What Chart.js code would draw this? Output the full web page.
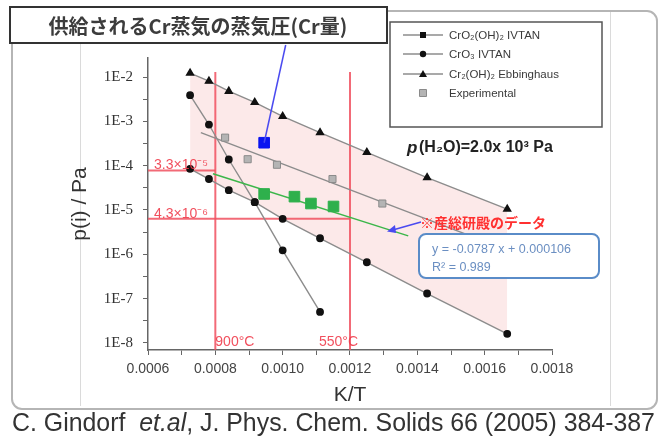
<!DOCTYPE html>
<html>
<head>
<meta charset="utf-8">
<script src="https://cdn.jsdelivr.net/npm/chart.js"></script>
<style>
html,body{margin:0;padding:0;background:#fff}
</style>
</head>
<body>
<canvas id="chart" width="664" height="443"></canvas>
<script>
// K/T values of the calculated curves
const ktVals = [0.000725, 0.000781, 0.000840, 0.000917, 0.001000, 0.001111, 0.001250, 0.001429, 0.001667]
const ebbinghausP = [1.23e-2, 8.1e-3, 4.8e-3, 2.7e-3, 1.3e-3, 5.6e-4, 2.0e-4, 5.4e-5, 1.05e-5]
const cro2oh2P = [8.5e-5, 5.0e-5, 2.8e-5, 1.5e-5, 6.3e-6, 2.3e-6, 6.6e-7, 1.3e-7, 1.6e-8]
const cro3P = [3.9e-3, 8.5e-4, 1.38e-4, 1.5e-5, 1.23e-6, 5.0e-8]

// experimental points + trend
const expKT = [0.000829, 0.000896, 0.000983, 0.001148, 0.001296]
const expP = [4.3e-4, 1.4e-4, 1.05e-4, 5.0e-5, 1.4e-5]
const expFitKT = [0.000757, 0.00167]
const expFitP = [5.6e-4, 1.23e-6]

// 産総研 data (green) + fit
const aistKT = [0.000945, 0.001035, 0.001084, 0.001151]
const aistP = [2.3e-5, 2.0e-5, 1.4e-5, 1.2e-5]
const aistFitKT = [0.000793, 0.001373]
const aistFitP = [6.6e-5, 2.6e-6]

// blue point and its pointer line
const blueKT = [0.000945]
const blueP = [3.3e-4]
const bluePointerKT = [0.000945, 0.001009]
const bluePointerP = [3.3e-4, 5.3e-2]

// red guide lines
const tempKT = [0.0008, 0.0012]
const tempLabels = ['900°C', '550°C']
const levelP = [7.8e-5, 6.3e-6]
const levelEndKT = [0.0008, 0.0012]
const levelLabels = ['3.3×10⁻⁵', '4.3×10⁻⁶']

const legendLabels = ['CrO₂(OH)₂ IVTAN', 'CrO₃ IVTAN', 'Cr₂(OH)₂ Ebbinghaus', 'Experimental']
const yDecades = [-8, -7, -6, -5, -4, -3, -2]
const xMin = 0.0006, xMax = 0.0018
const yMin = 6.9e-9, yMax = 2.7e-2
const guideTopP = 1.3e-2

const pts = (xs, ys) => xs.map((x, i) => ({x: x, y: ys[i]}))

const red = 'rgba(240,80,95,0.85)'
const lineGray = '#8c8c8c'
const pink = 'rgba(245,170,170,0.26)'

const datasets = [
  {label: 'pointer', data: pts(bluePointerKT, bluePointerP), borderColor: '#4a4af0', borderWidth: 1.5, pointRadius: 0, clip: false},
  {label: 'blue', data: pts(blueKT, blueP), showLine: false, pointStyle: 'rect', pointRadius: 7.5, backgroundColor: '#0a14f0', borderColor: '#0a14f0'},
  {label: 'aist', data: pts(aistKT, aistP), showLine: false, pointStyle: 'rect', pointRadius: 7.5, backgroundColor: '#2eb04c', borderColor: '#2eb04c'},
  {label: 'aistFit', data: pts(aistFitKT, aistFitP), borderColor: '#3cb64a', borderWidth: 1.5, pointRadius: 0},
  {label: legendLabels[3], data: pts(expKT, expP), showLine: false, pointStyle: 'rect', pointRadius: 5, backgroundColor: '#b4b4b4', borderColor: '#8a8a8a', borderWidth: 1},
  {label: 'expFit', data: pts(expFitKT, expFitP), borderColor: lineGray, borderWidth: 1.4, pointRadius: 0},
  {label: legendLabels[2], data: pts(ktVals, ebbinghausP), borderColor: lineGray, borderWidth: 1.4, pointStyle: 'triangle', pointRadius: 4, backgroundColor: '#111', pointBorderColor: '#111',
   fill: {target: '+1', above: pink, below: pink}},
  {label: legendLabels[0], data: pts(ktVals, cro2oh2P), borderColor: lineGray, borderWidth: 1.4, pointStyle: 'circle', pointRadius: 3.2, backgroundColor: '#111', pointBorderColor: '#111'},
  {label: legendLabels[1], data: pts(ktVals.slice(0, cro3P.length), cro3P), borderColor: lineGray, borderWidth: 1.4, pointStyle: 'circle', pointRadius: 3.2, backgroundColor: '#111', pointBorderColor: '#111'},
]
tempKT.forEach((x) => {
  datasets.push({label: 'temp', data: [{x: x, y: yMin}, {x: x, y: guideTopP}], borderColor: red, borderWidth: 2, pointRadius: 0})
})
levelP.forEach((p, i) => {
  datasets.push({label: 'level', data: [{x: xMin, y: p}, {x: levelEndKT[i], y: p}], borderColor: red, borderWidth: 2, pointRadius: 0})
})

function roundRect(ctx, x, y, w, h, r) {
  ctx.beginPath()
  ctx.moveTo(x + r, y)
  ctx.arcTo(x + w, y, x + w, y + h, r)
  ctx.arcTo(x + w, y + h, x, y + h, r)
  ctx.arcTo(x, y + h, x, y, r)
  ctx.arcTo(x, y, x + w, y, r)
  ctx.closePath()
}

function marker(ctx, kind, x, y) {
  ctx.fillStyle = '#111'
  ctx.beginPath()
  if (kind == 'rect') {
    ctx.rect(x - 3, y - 3, 6, 6)
  } else if (kind == 'circle') {
    ctx.arc(x, y, 3.2, 0, Math.PI * 2)
  } else if (kind == 'triangle') {
    ctx.moveTo(x, y - 4); ctx.lineTo(x + 4, y + 3); ctx.lineTo(x - 4, y + 3); ctx.closePath()
  } else {
    ctx.fillStyle = '#b4b4b4'
    ctx.strokeStyle = '#8a8a8a'
    ctx.rect(x - 3.5, y - 3.5, 7, 7)
    ctx.fill(); ctx.stroke()
    return
  }
  ctx.fill()
}

const decor = {
  id: 'decor',
  beforeDraw(chart) {
    const ctx = chart.ctx
    ctx.save()
    ctx.fillStyle = '#fff'
    ctx.fillRect(0, 0, chart.width, chart.height)
    ctx.strokeStyle = '#b5b5b5'
    ctx.lineWidth = 2
    roundRect(ctx, 12, 11, 645, 398, 10)
    ctx.stroke()
    ctx.strokeStyle = '#dadada'
    ctx.lineWidth = 1
    ctx.beginPath()
    ctx.moveTo(80.5, 44); ctx.lineTo(80.5, 406)
    ctx.moveTo(610.5, 12); ctx.lineTo(610.5, 406)
    ctx.stroke()
    ctx.restore()
  },
  afterDraw(chart) {
    const ctx = chart.ctx
    const xs = chart.scales.x, ys = chart.scales.y
    ctx.save()

    // red labels
    ctx.fillStyle = 'rgba(240,60,75,0.9)'
    ctx.font = '14px "Liberation Sans"'
    ctx.textBaseline = 'middle'
    ctx.textAlign = 'left'
    levelP.forEach((p, i) => ctx.fillText(levelLabels[i], xs.getPixelForValue(xMin) + 6, ys.getPixelForValue(p) - 5))
    tempLabels.forEach((t, i) => {
      const px = xs.getPixelForValue(tempKT[i])
      if (i == 0) ctx.fillText(t, px, 342)
      else { ctx.textAlign = 'right'; ctx.fillText(t, px + 8, 342) }
    })

    // title box
    ctx.fillStyle = '#fff'
    ctx.fillRect(10, 7, 377, 36)
    ctx.strokeStyle = '#333'
    ctx.lineWidth = 2
    ctx.strokeRect(10, 7, 377, 36)
    ctx.fillStyle = '#3c3c3c'
    ctx.font = 'bold 20px "Noto Sans CJK JP"'
    ctx.textAlign = 'center'
    ctx.fillText('供給されるCr蒸気の蒸気圧(Cr量)', 198, 26)

    // legend
    ctx.fillStyle = '#fff'
    ctx.fillRect(390, 22, 212, 105)
    ctx.strokeStyle = '#555'
    ctx.lineWidth = 1.5
    ctx.strokeRect(390, 22, 212, 105)
    const kinds = ['rect', 'circle', 'triangle', 'exp']
    const rowY = [35, 54, 74, 93]
    ctx.font = '11.5px "Liberation Sans"'
    ctx.textAlign = 'left'
    kinds.forEach((k, i) => {
      const y = rowY[i]
      if (k != 'exp') {
        ctx.strokeStyle = '#555'
        ctx.lineWidth = 1.2
        ctx.beginPath(); ctx.moveTo(403, y); ctx.lineTo(443, y); ctx.stroke()
      }
      ctx.lineWidth = 1
      marker(ctx, k, 423, y)
      ctx.fillStyle = '#3a3a3a'
      ctx.fillText(legendLabels[i], 449, y + 1)
    })

    // p(H2O)
    ctx.fillStyle = '#222'
    ctx.font = 'italic bold 17px "Liberation Sans"'
    ctx.fillText('p', 407, 148)
    ctx.font = 'bold 16px "Liberation Sans"'
    ctx.fillText('(H₂O)=2.0x 10³ Pa', 419, 148)

    // AIST note + arrow
    ctx.fillStyle = '#ff3030'
    ctx.font = 'bold 14px "Noto Sans CJK JP"'
    ctx.fillText('※産総研殿のデータ', 420, 223)
    ctx.strokeStyle = '#4a4af0'
    ctx.fillStyle = '#4a4af0'
    ctx.lineWidth = 1.5
    ctx.beginPath(); ctx.moveTo(421, 222); ctx.lineTo(391, 230.5); ctx.stroke()
    ctx.beginPath(); ctx.moveTo(387, 231.5); ctx.lineTo(395, 225); ctx.lineTo(396, 233); ctx.closePath(); ctx.fill()

    // equation box
    ctx.fillStyle = '#fff'
    ctx.strokeStyle = '#5a8cc8'
    ctx.lineWidth = 2
    roundRect(ctx, 419, 234, 180, 44, 7)
    ctx.fill(); ctx.stroke()
    ctx.fillStyle = '#6b8fc2'
    ctx.font = '12.5px "Liberation Sans"'
    ctx.fillText('y = -0.0787 x + 0.000106', 432, 250)
    ctx.fillText('R² = 0.989', 432, 268)

    // axis titles
    ctx.fillStyle = '#333'
    ctx.font = '21px "Liberation Sans"'
    ctx.textAlign = 'center'
    ctx.fillText('K/T', 350, 395)
    ctx.save()
    ctx.translate(80, 204)
    ctx.rotate(-Math.PI / 2)
    ctx.fillText('p(i) / Pa', 0, 0)
    ctx.restore()

    // citation
    ctx.textAlign = 'left'
    ctx.fillStyle = '#333'
    const parts = [['C. Gindorf  ', ''], ['et.al', 'italic '], [', J. Phys. Chem. Solids 66 (2005) 384-387', '']]
    let w = 0
    parts.forEach(p => { ctx.font = p[1] + '20px "Liberation Sans"'; w += ctx.measureText(p[0]).width })
    const size = 20 * 643 / w
    let cx = 12
    parts.forEach(p => {
      ctx.font = p[1] + size.toFixed(2) + 'px "Liberation Sans"'
      ctx.fillText(p[0], cx, 424)
      cx += ctx.measureText(p[0]).width
    })
    ctx.restore()
  }
}

const chart = new Chart(document.getElementById('chart'), {
  type: 'line',
  data: {datasets: datasets},
  options: {
    responsive: false,
    animation: false,
    layout: {padding: {left: 80, right: 112, top: 58, bottom: 63}},
    plugins: {
      legend: {display: false},
      tooltip: {enabled: false},
      filler: {drawTime: 'beforeDatasetsDraw'}
    },
    scales: {
      x: {
        type: 'linear', min: xMin, max: xMax,
        border: {color: '#666', width: 1.5},
        grid: {drawOnChartArea: false, tickLength: 5, color: '#666'},
        ticks: {
          stepSize: 0.0001, autoSkip: false, maxRotation: 0, padding: 6,
          color: '#444', font: {family: 'Liberation Sans', size: 14},
          callback: (v) => { const n = Math.round(v * 1e4); return n % 2 == 0 ? (n / 1e4).toFixed(4) : '' }
        },
        afterFit: (s) => { s.height = 30 }
      },
      y: {
        type: 'logarithmic', min: yMin, max: yMax,
        border: {color: '#666', width: 1.5},
        grid: {drawOnChartArea: false, tickLength: 5, color: '#666'},
        afterBuildTicks: (s) => {
          const t = []
          yDecades.forEach((d, i) => {
            t.push({value: Math.pow(10, d)})
            if (i < yDecades.length - 1) t.push({value: Math.pow(10, d + 0.5)})
          })
          s.ticks = t
        },
        ticks: {
          autoSkip: false, padding: 10,
          color: '#333', font: {family: 'Liberation Serif', size: 15},
          callback: (v) => {
            const e = Math.log10(v)
            return Math.abs(e - Math.round(e)) < 1e-6 ? '1E' + Math.round(e) : ''
          }
        },
        afterFit: (s) => { s.width = 68 }
      }
    }
  },
  plugins: [decor]
})
</script>
</body>
</html>
